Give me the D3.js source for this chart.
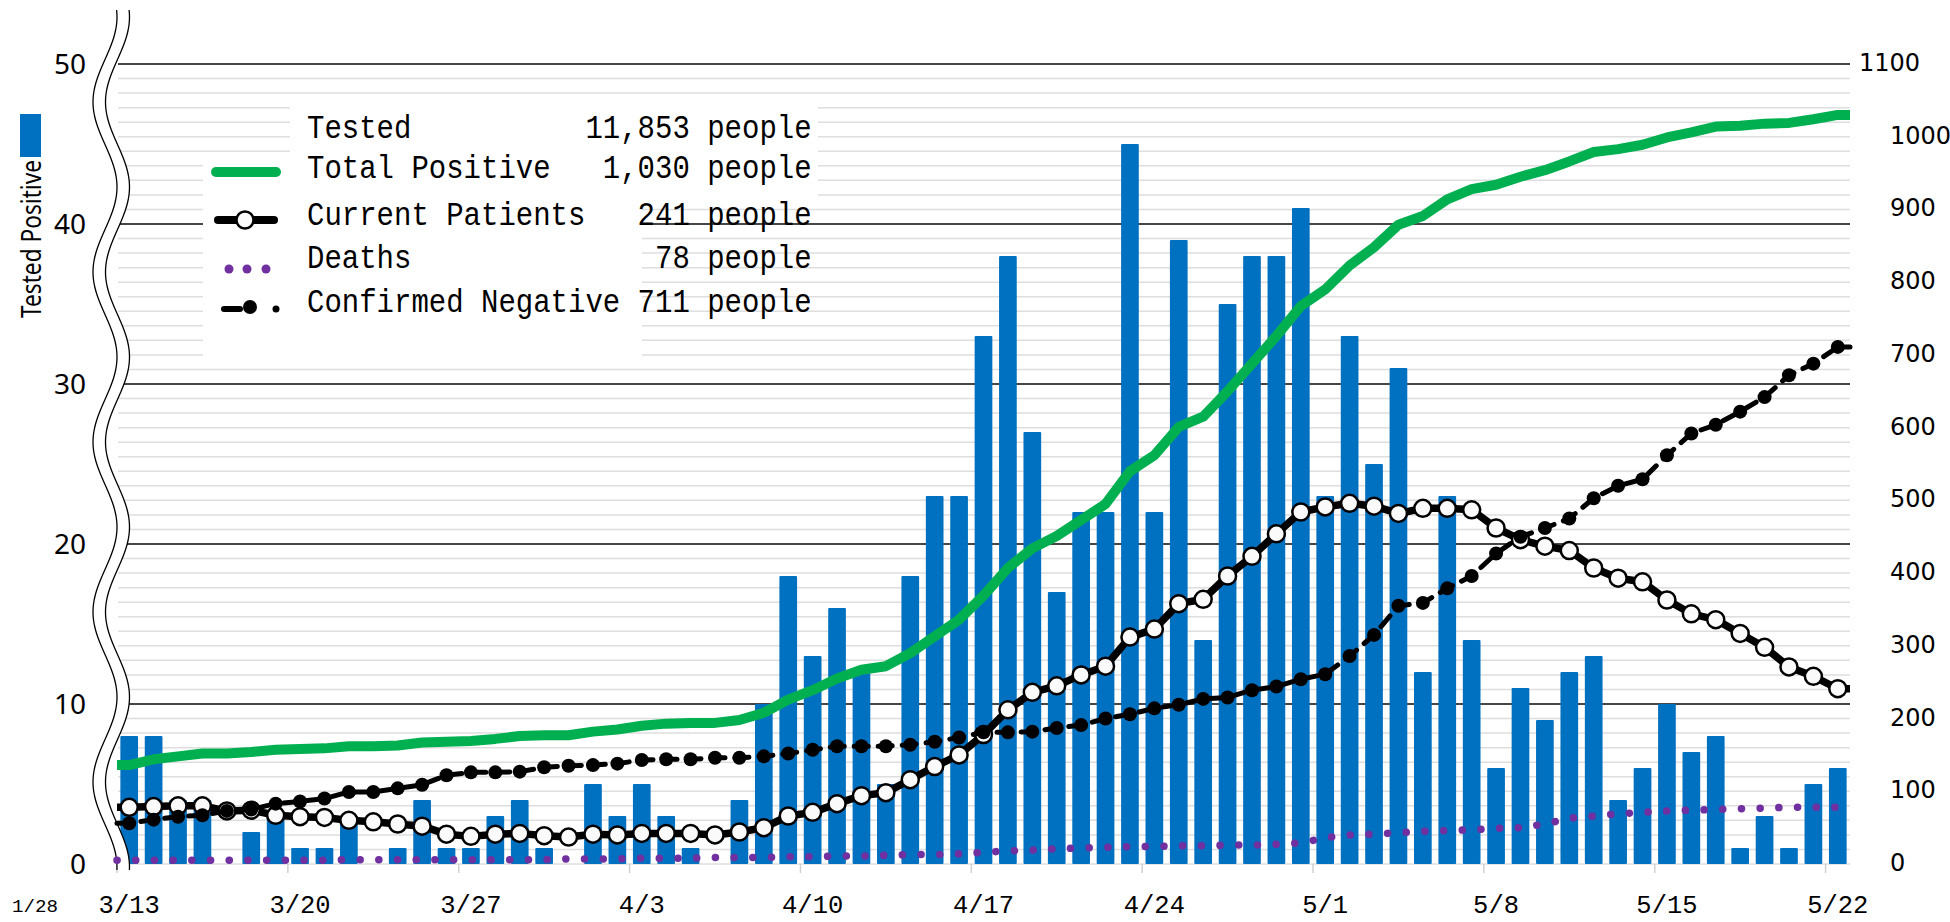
<!DOCTYPE html>
<html>
<head>
<meta charset="utf-8">
<script src="https://cdn.jsdelivr.net/npm/d3@7"></script>
<style>
  body { margin: 0; background: #fff; }
  svg { display: block; }
  .pre { white-space: pre; }
</style>
</head>
<body>
<svg id="chart" width="1950" height="922"></svg>
<script>
const dates = [
    "3/13", "3/14", "3/15", "3/16", "3/17", "3/18", "3/19", "3/20", "3/21", "3/22", "3/23", "3/24", "3/25", "3/26", "3/27", "3/28", "3/29", "3/30", "3/31",
    "4/1", "4/2", "4/3", "4/4", "4/5", "4/6", "4/7", "4/8", "4/9", "4/10", "4/11", "4/12", "4/13", "4/14", "4/15", "4/16", "4/17", "4/18", "4/19", "4/20",
    "4/21", "4/22", "4/23", "4/24", "4/25", "4/26", "4/27", "4/28", "4/29", "4/30",
    "5/1", "5/2", "5/3", "5/4", "5/5", "5/6", "5/7", "5/8", "5/9", "5/10", "5/11", "5/12", "5/13", "5/14", "5/15", "5/16", "5/17", "5/18", "5/19", "5/20", "5/21", "5/22"
];
const xTickLabels = ["3/13", "3/20", "3/27", "4/3", "4/10", "4/17", "4/24", "5/1", "5/8", "5/15", "5/22"];

//daily tested positive (left axis)
const positives = [
    8, 8, 4, 4, 0, 2, 3, 1, 1, 3, 0, 1, 4, 1, 1, 3, 4, 1,
    0, 5, 3, 5, 3, 1, 0, 4, 10, 18, 13, 16, 12, 5, 18, 23, 23,
    33, 38, 27, 17, 22, 22, 45, 22, 39, 14, 35, 38, 38, 41, 23, 33, 25, 31, 12,
    23, 14, 6, 11, 9, 12, 13, 4, 6, 10, 7, 8, 1, 3, 1, 5, 6
];
//right axis series
const totalPositive = [
    136, 144, 148, 152, 152, 154, 157, 158, 159, 162, 162, 163, 167, 168, 169, 172, 176, 177,
    177, 182, 185, 190, 193, 194, 194, 198, 208, 226, 239, 255, 267, 272, 290, 313, 336,
    369, 407, 434, 451, 473, 495, 540, 562, 601, 615, 650, 688, 726, 767, 790, 823, 848, 879, 891,
    914, 928, 934, 945, 954, 966, 979, 983, 989, 999, 1006, 1014, 1015, 1018, 1019, 1024, 1030
];
const currentPatients = [
    78, 79, 80, 80, 73, 74, 67, 65, 64, 60, 58, 55, 52, 41, 38, 41, 42, 39,
    37, 41, 40, 42, 42, 42, 40, 44, 50, 66, 71, 83, 94, 98, 116, 134, 150,
    178, 212, 236, 245, 260, 272, 312, 323, 358, 364, 396, 423, 454, 484, 491, 496, 492, 482, 489,
    489, 487, 462, 446, 437, 431, 407, 393, 388, 363, 344, 336, 317, 298, 271, 258, 241
];
const deaths = [
    5, 5, 5, 5, 5, 5, 5, 5, 5, 6, 6, 6, 6, 6, 6, 6, 6, 6,
    7, 7, 7, 8, 8, 8, 9, 9, 9, 10, 10, 11, 11, 12, 13, 13, 14,
    16, 18, 19, 21, 22, 23, 24, 24, 25, 25, 26, 26, 27, 29, 36, 40, 41, 43, 45,
    46, 47, 49, 50, 55, 63, 66, 69, 71, 73, 74, 75, 76, 77, 78, 78, 78
];
const confirmedNegative = [
    56, 61, 65, 67, 73, 75, 83, 86, 90, 99, 99, 104, 109, 122, 126, 126, 127, 133,
    135, 136, 138, 143, 144, 144, 146, 146, 148, 152, 157, 162, 162, 162, 164, 168, 174,
    181, 181, 182, 187, 191, 200, 206, 214, 219, 227, 229, 239, 244, 254, 261, 286, 315, 355, 359,
    379, 396, 427, 450, 462, 475, 503, 520, 529, 562, 592, 604, 622, 642, 672, 688, 711
];

const leftTicks = [0, 10, 20, 30, 40, 50];
const rightTicks = [0, 100, 200, 300, 400, 500, 600, 700, 800, 900, 1000, 1100];
const legendRows = [
    "Tested          11,853 people",
    "Total Positive   1,030 people",
    "Current Patients   241 people",
    "Deaths              78 people",
    "Confirmed Negative 711 people"
];

const svg = d3.select("#chart");
const plot = { left: 117, right: 1850, top: 64, bottom: 864 };
const mono = "'Liberation Mono', 'DejaVu Sans Mono', monospace";

const x = d3.scaleBand()
    .domain(dates)
    .range([plot.left, plot.right])
    .paddingInner(0.275)
    .paddingOuter(0.1375);
const yL = d3.scaleLinear().domain([0, 50]).range([plot.bottom, plot.top]);
const yR = d3.scaleLinear().domain([0, 1100]).range([plot.bottom, plot.top]);

const cx = d => x(d) + x.bandwidth() / 2;
const slotStart = d => x(d) - x.step() * x.paddingInner() / 2;

//minor gridlines every 20 on the right axis
svg.append("g")
    .selectAll("line")
    .data(d3.range(0, 1101, 20))
    .enter()
    .append("line")
    .attr("x1", plot.left + 1)
    .attr("x2", plot.right)
    .attr("y1", d => yR(d))
    .attr("y2", d => yR(d))
    .attr("stroke", "#dedede")
    .attr("stroke-width", 1.5);

//major gridlines
svg.append("g")
    .selectAll("line")
    .data(leftTicks.filter(d => d > 0))
    .enter()
    .append("line")
    .attr("x1", plot.left + 1)
    .attr("x2", plot.right)
    .attr("y1", d => yL(d))
    .attr("y2", d => yL(d))
    .attr("stroke", "#111")
    .attr("stroke-width", 1.6);

//week ticks below the axis
svg.append("g")
    .selectAll("line")
    .data(xTickLabels)
    .enter()
    .append("line")
    .attr("x1", d => slotStart(d))
    .attr("x2", d => slotStart(d))
    .attr("y1", plot.bottom)
    .attr("y2", plot.bottom + 9)
    .attr("stroke", "#d0d0d0")
    .attr("stroke-width", 1.5);

//legend background boxes
const boxes = [[203, 158, 87, 200], [290, 100, 528, 100], [290, 200, 352, 158]];
svg.append("g")
    .selectAll("rect")
    .data(boxes)
    .enter()
    .append("rect")
    .attr("x", d => d[0])
    .attr("y", d => d[1])
    .attr("width", d => d[2])
    .attr("height", d => d[3])
    .attr("fill", "#fff");

//bars
svg.append("g")
    .selectAll("rect")
    .data(positives)
    .enter()
    .append("rect")
    .attr("x", (d, i) => x(dates[i]))
    .attr("y", d => yL(d))
    .attr("width", x.bandwidth())
    .attr("height", d => yL(0) - yL(d))
    .attr("rx", 1)
    .attr("fill", "#0070c0");

//wavy axis break
const waveY = d3.range(10, 871, 2);
const waveX = y => 105 + 12 * Math.sin(2 * Math.PI * (y - 144.5) / 170);
const waveL = waveY.map(y => [waveX(y), y]);
const waveR = waveY.map(y => [waveX(y) + 12.5, y]);
svg.append("path")
    .attr("d", d3.line()(waveL.concat(waveR.slice().reverse())) + "Z")
    .attr("fill", "#fff");
[waveL, waveR].forEach(pts => {
    svg.append("path")
        .attr("d", d3.line().curve(d3.curveBasis)(pts))
        .attr("fill", "none")
        .attr("stroke", "#000")
        .attr("stroke-width", 1.3);
});

//line points, extended flat to both plot edges
const points = vals => [[plot.left, vals[0]]]
    .concat(dates.map((d, i) => [cx(d), vals[i]]))
    .concat([[plot.right, vals[vals.length - 1]]]);
const lineR = d3.line().x(p => p[0]).y(p => yR(p[1]));

//deaths
svg.append("path")
    .attr("d", lineR(points(deaths)))
    .attr("fill", "none")
    .attr("stroke", "#7030a0")
    .attr("stroke-width", 7.5)
    .attr("stroke-linecap", "round")
    .attr("stroke-dasharray", "0.1 18.6");

//total positive
svg.append("path")
    .attr("d", lineR(points(totalPositive)))
    .attr("fill", "none")
    .attr("stroke", "#00b050")
    .attr("stroke-width", 10)
    .attr("stroke-linejoin", "round");

//current patients
svg.append("path")
    .attr("d", lineR(points(currentPatients)))
    .attr("fill", "none")
    .attr("stroke", "#000")
    .attr("stroke-width", 7.5)
    .attr("stroke-linejoin", "round");

svg.append("g")
    .selectAll("circle")
    .data(currentPatients)
    .enter()
    .append("circle")
    .attr("cx", (d, i) => cx(dates[i]))
    .attr("cy", d => yR(d))
    .attr("r", 8.5)
    .attr("fill", "#fafafa")
    .attr("stroke", "#000")
    .attr("stroke-width", 2.5);

//confirmed negative
svg.append("path")
    .attr("d", lineR(points(confirmedNegative)))
    .attr("fill", "none")
    .attr("stroke", "#000")
    .attr("stroke-width", 5)
    .attr("stroke-linecap", "round")
    .attr("stroke-dasharray", "14 10");

svg.append("g")
    .selectAll("circle")
    .data(confirmedNegative)
    .enter()
    .append("circle")
    .attr("cx", (d, i) => cx(dates[i]))
    .attr("cy", d => yR(d))
    .attr("r", 7)
    .attr("fill", "#000");

//left axis labels
svg.append("g")
    .selectAll("text")
    .data(leftTicks)
    .enter()
    .append("text")
    .attr("x", 86)
    .attr("y", d => yL(d) + 2)
    .attr("text-anchor", "end")
    .attr("dominant-baseline", "middle")
    .style("font-family", "'Noto Sans', sans-serif")
    .style("font-size", "28px")
    .text(d => d);

//right axis labels
svg.append("g")
    .selectAll("text")
    .data(rightTicks)
    .enter()
    .append("text")
    .attr("x", d => d === 1100 ? 1859 : 1890)
    .attr("y", d => yR(d))
    .attr("dominant-baseline", "middle")
    .style("font-family", "'DejaVu Sans', sans-serif")
    .style("font-size", "24px")
    .text(d => d);

//x labels
svg.append("g")
    .selectAll("text")
    .data(xTickLabels)
    .enter()
    .append("text")
    .attr("x", d => cx(d))
    .attr("y", 913)
    .attr("text-anchor", "middle")
    .attr("textLength", d => 15.3 * d.length)
    .attr("lengthAdjust", "spacingAndGlyphs")
    .style("font-family", mono)
    .style("font-size", "25px")
    .text(d => d);

svg.append("text")
    .attr("x", 35)
    .attr("y", 912)
    .attr("text-anchor", "middle")
    .attr("textLength", 46)
    .attr("lengthAdjust", "spacingAndGlyphs")
    .style("font-family", mono)
    .style("font-size", "18px")
    .text("1/28");

//left axis title with bar swatch
svg.append("rect")
    .attr("x", 20)
    .attr("y", 114)
    .attr("width", 21)
    .attr("height", 43)
    .attr("fill", "#0070c0");

svg.append("text")
    .attr("transform", "translate(41, 239) rotate(-90)")
    .attr("text-anchor", "middle")
    .attr("textLength", 158)
    .attr("lengthAdjust", "spacingAndGlyphs")
    .style("font-family", "'Noto Sans', sans-serif")
    .style("font-size", "27px")
    .text("Tested Positive");

//legend text, one monospaced row each
const rowY = [138, 178, 225, 268, 312];
const legend = svg.append("g");
legend.selectAll("text")
    .data(legendRows)
    .enter()
    .append("text")
    .attr("class", "pre")
    .attr("x", 307)
    .attr("y", (d, i) => rowY[i])
    .attr("textLength", d => 17.4 * d.length)
    .attr("lengthAdjust", "spacingAndGlyphs")
    .style("font-family", mono)
    .style("font-size", "34px")
    .text(d => d);

//legend symbols
legend.append("line")
    .attr("x1", 216).attr("x2", 276)
    .attr("y1", 172).attr("y2", 172)
    .attr("stroke", "#00b050")
    .attr("stroke-width", 10)
    .attr("stroke-linecap", "round");

legend.append("line")
    .attr("x1", 218).attr("x2", 274)
    .attr("y1", 220).attr("y2", 220)
    .attr("stroke", "#000")
    .attr("stroke-width", 8)
    .attr("stroke-linecap", "round");
legend.append("circle")
    .attr("cx", 245).attr("cy", 220).attr("r", 8.5)
    .attr("fill", "#fafafa")
    .attr("stroke", "#000")
    .attr("stroke-width", 2.5);

legend.selectAll(".death-dot")
    .data([229, 247, 266])
    .enter()
    .append("circle")
    .attr("class", "death-dot")
    .attr("cx", d => d).attr("cy", 269).attr("r", 4.5)
    .attr("fill", "#7030a0");

legend.append("line")
    .attr("x1", 224).attr("x2", 240)
    .attr("y1", 309).attr("y2", 309)
    .attr("stroke", "#000")
    .attr("stroke-width", 6)
    .attr("stroke-linecap", "round");
legend.append("circle")
    .attr("cx", 250).attr("cy", 307).attr("r", 7)
    .attr("fill", "#000");
legend.append("circle")
    .attr("cx", 276).attr("cy", 309).attr("r", 3.5)
    .attr("fill", "#000");
</script>
</body>
</html>
